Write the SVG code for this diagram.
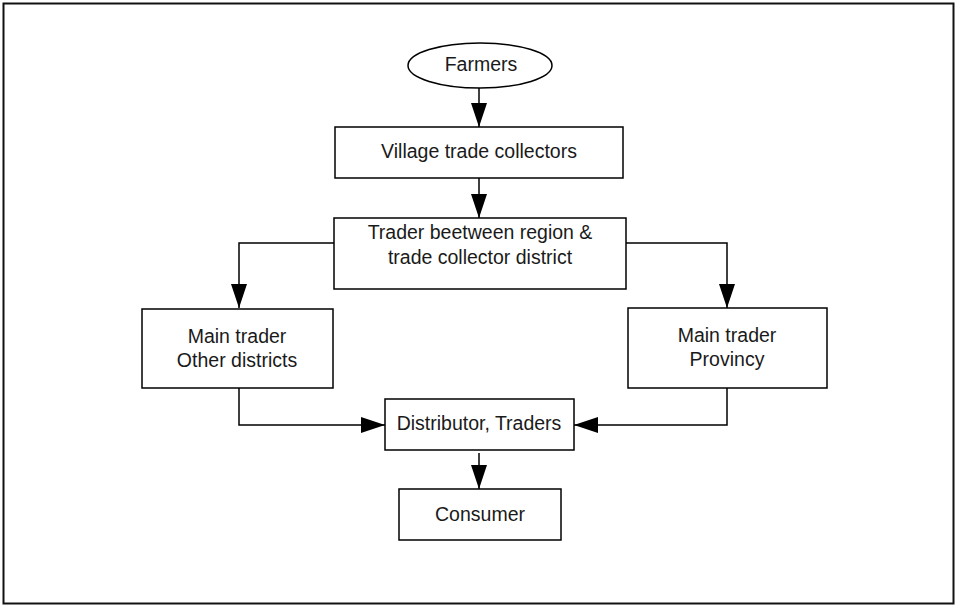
<svg xmlns="http://www.w3.org/2000/svg" width="956" height="606" viewBox="0 0 956 606">
  <defs>
    <marker id="arrow" markerUnits="userSpaceOnUse" markerWidth="26" markerHeight="18" refX="24" refY="8" orient="auto">
      <path d="M0,0 L24,8 L0,16 Z" fill="#000"/>
    </marker>
    <style>
      .box { fill: #fff; stroke: #000; stroke-width: 1.5; }
      .lbl { font-family: "Liberation Sans", Arial, sans-serif; font-size: 19.5px; fill: #1a1a1a; text-anchor: middle; }
      .conn { fill: none; stroke: #000; stroke-width: 1.5; marker-end: url(#arrow); }
    </style>
  </defs>
  <rect x="0" y="0" width="956" height="606" fill="#fff"/>
  <rect x="3.5" y="3.5" width="950" height="600" fill="none" stroke="#111" stroke-width="2"/>

  <g id="connectors">
    <path class="conn" d="M479 88 V127"/>
    <path class="conn" d="M479 178 V218"/>
    <path class="conn" d="M334 243 H239 V308"/>
    <path class="conn" d="M626 243 H727 V308"/>
    <path class="conn" d="M239 377 V425 H385"/>
    <path class="conn" d="M727 377 V425 H574"/>
    <path class="conn" d="M479 453 V489"/>
  </g>

  <g id="farmers">
    <ellipse class="box" cx="480" cy="65.5" rx="72" ry="22.5"/>
    <text class="lbl" x="481" y="71">Farmers</text>
  </g>
  <g id="village">
    <rect class="box" x="335" y="127" width="288" height="51"/>
    <text class="lbl" x="479" y="158">Village trade collectors</text>
  </g>
  <g id="trader-region">
    <rect class="box" x="334" y="218" width="292" height="71"/>
    <text class="lbl" x="480" y="239">Trader beetween region &amp;</text>
    <text class="lbl" x="480" y="264">trade collector district</text>
  </g>
  <g id="main-other">
    <rect class="box" x="142" y="309" width="191" height="79"/>
    <text class="lbl" x="237" y="343">Main trader</text>
    <text class="lbl" x="237" y="367">Other districts</text>
  </g>
  <g id="main-provincy">
    <rect class="box" x="628" y="308" width="199" height="80"/>
    <text class="lbl" x="727" y="342">Main trader</text>
    <text class="lbl" x="727" y="366">Provincy</text>
  </g>
  <g id="distributor">
    <rect class="box" x="385" y="399" width="189" height="51"/>
    <text class="lbl" x="479" y="430">Distributor, Traders</text>
  </g>
  <g id="consumer">
    <rect class="box" x="399" y="489" width="162" height="51"/>
    <text class="lbl" x="480" y="521">Consumer</text>
  </g>
</svg>
